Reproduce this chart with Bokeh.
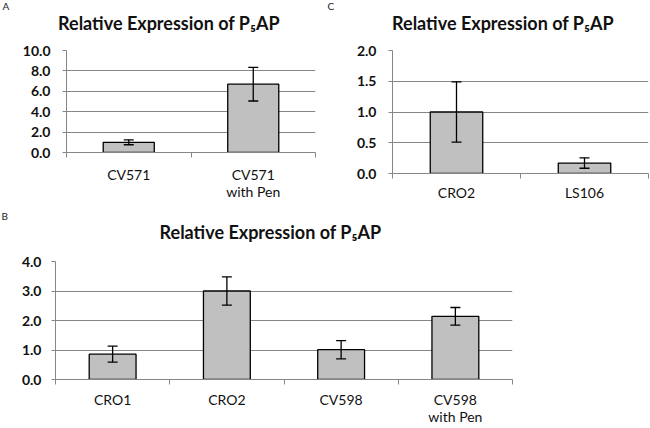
from bokeh.plotting import figure
from bokeh.models import (ColumnDataSource, Whisker, TeeHead, FixedTicker,
                          NumeralTickFormatter, Range1d, LinearAxis, Title)
from bokeh.layouts import column, row
from bokeh.embed import file_html
from bokeh.resources import INLINE

# ---- data ----
a_cats = ["CV571", "CV571\nwith Pen"]
a_vals = [1.0, 6.7]
a_errs = [0.24, 1.65]
a_ticks = [0.0, 2.0, 4.0, 6.0, 8.0, 10.0]

c_cats = ["CRO2", "LS106"]
c_vals = [1.0, 0.17]
c_errs = [0.49, 0.085]
c_ticks = [0.0, 0.5, 1.0, 1.5, 2.0]

b_cats = ["CRO1", "CRO2", "CV598", "CV598\nwith Pen"]
b_vals = [0.86, 3.0, 1.01, 2.14]
b_errs = [0.27, 0.48, 0.31, 0.30]
b_ticks = [0.0, 1.0, 2.0, 3.0, 4.0]

title_text = "Relative Expression of P\u2085AP"

FONT = "Lato"
GRID = "#868686"
BAR = "#c0c0c0"
INK = "#111111"


def bare_axis(bounds_c, eps, text, **kw):
    """A tick-less, line-less axis whose single tick label carries a text."""
    return LinearAxis(bounds=(bounds_c - eps, bounds_c + eps),
                      ticker=FixedTicker(ticks=[bounds_c]),
                      major_label_overrides={bounds_c: text},
                      axis_line_color=None, major_tick_line_color=None,
                      minor_tick_line_color=None, major_tick_out=0,
                      major_tick_in=0, minor_tick_out=0, minor_tick_in=0,
                      **kw)


def panel(cats, vals, errs, ticks, letter, width, height, bl, br, bt, bb,
          ylab_standoff, xlab_standoff, title_cx_px, title_standoff,
          letter_offset, letter_standoff):
    n = len(cats)
    xs = [i + 0.5 for i in range(n)]
    src = ColumnDataSource(dict(
        x=xs, top=vals,
        upper=[v + e for v, e in zip(vals, errs)],
        lower=[v - e for v, e in zip(vals, errs)],
    ))
    y0, y1 = ticks[0], ticks[-1]
    p = figure(width=width, height=height, output_backend="svg",
               toolbar_location=None, x_range=Range1d(0, n),
               y_range=Range1d(y0, y1),
               min_border_left=bl, min_border_right=br,
               min_border_top=bt, min_border_bottom=bb)
    p.frame_align = False
    p.outline_line_color = None
    p.background_fill_color = "white"
    p.border_fill_color = "white"

    # panel letter (top-left corner)
    p.title = Title(text=letter, align="left", offset=letter_offset,
                    standoff=letter_standoff, text_font=FONT,
                    text_font_size="10px", text_font_style="normal",
                    text_color="#222222")

    p.vbar(x="x", top="top", bottom=0, width=0.41, source=src,
           fill_color=BAR, line_color="black", line_width=1.3)
    w = Whisker(base="x", upper="upper", lower="lower", source=src,
                line_color="black", line_width=1.3, level="annotation",
                upper_head=TeeHead(size=10, line_color="black", line_width=1.3),
                lower_head=TeeHead(size=10, line_color="black", line_width=1.3))
    p.add_layout(w)

    # x axis: labels at category centres, tick marks at category boundaries
    p.xaxis.ticker = FixedTicker(ticks=xs, minor_ticks=list(range(n + 1)))
    p.xaxis.major_label_overrides = {x: c for x, c in zip(xs, cats)}
    p.xaxis.major_tick_out = 0
    p.xaxis.major_tick_in = 0
    p.xaxis.minor_tick_out = 5
    p.xaxis.minor_tick_in = 0
    p.xaxis.minor_tick_line_color = GRID
    p.xaxis.axis_line_color = GRID
    p.xaxis.major_label_text_font = FONT
    p.xaxis.major_label_text_font_size = "14px"
    p.xaxis.major_label_text_line_height = 1.05
    p.xaxis.major_label_text_color = INK
    p.xaxis.major_label_standoff = xlab_standoff

    p.yaxis.ticker = FixedTicker(ticks=ticks)
    p.yaxis.formatter = NumeralTickFormatter(format="0.0")
    p.yaxis.major_tick_out = 4
    p.yaxis.major_tick_in = 0
    p.yaxis.minor_tick_line_color = None
    p.yaxis.major_tick_line_color = GRID
    p.yaxis.axis_line_color = GRID
    p.yaxis.major_label_text_font = FONT
    p.yaxis.major_label_text_font_size = "14px"
    p.yaxis.major_label_text_font_style = "bold"
    p.yaxis.major_label_text_color = INK
    p.yaxis.major_label_standoff = ylab_standoff

    frame_w = width - bl - br

    # chart title, placed above the frame
    tx = title_cx_px * n / frame_w
    p.add_layout(bare_axis(tx, 0.5 * n / frame_w, title_text,
                           major_label_standoff=title_standoff,
                           major_label_text_font=FONT,
                           major_label_text_font_size="18px",
                           major_label_text_font_style="bold",
                           major_label_text_color=INK), "above")

    p.xgrid.grid_line_color = None
    p.ygrid.ticker = FixedTicker(ticks=ticks)
    p.ygrid.grid_line_color = GRID
    p.ygrid.grid_line_width = 1
    return p


pa = panel(a_cats, a_vals, a_errs, a_ticks, "A", 325, 210,
           66, 10, 48, 58, 12, 8, 102.5, 17, -64, -6)
pc = panel(c_cats, c_vals, c_errs, c_ticks, "C", 325, 210,
           67, 2, 48, 37, 12, 5, 110.5, 17, -65, -6)
pb = panel(b_cats, b_vals, b_errs, b_ticks, "B", 650, 218,
           55, 138, 51, 46, 10, 6, 215, 19, -54, -8)

layout = column(row(pa, pc), pb)
open("out.html", "w").write(file_html(layout, INLINE))
